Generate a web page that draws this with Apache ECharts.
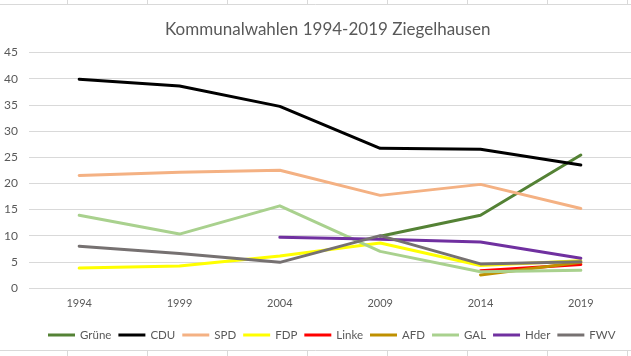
<!DOCTYPE html>
<html><head><meta charset="utf-8">
<script src="https://cdn.jsdelivr.net/npm/echarts@6/dist/echarts.min.js"></script>
<style>html,body{margin:0;padding:0;background:#fff}#c{width:631px;height:356px}</style>
</head><body><div id="c"></div>
<script>
const years = ['1994','1999','2004','2009','2014','2019'];
const yTicks = [0,5,10,15,20,25,30,35,40,45];
const gruene = [null,null,null,9.9,13.9,25.4];
const cdu = [39.9,38.6,34.7,26.7,26.5,23.5];
const spd = [21.5,22.1,22.5,17.7,19.8,15.2];
const fdp = [3.8,4.2,6.1,8.6,4.3,5.2];
const linke = [null,null,null,null,3.3,4.5];
const afd = [null,null,null,null,2.5,4.9];
const gal = [13.9,10.3,15.7,7.0,3.1,3.4];
const hder = [null,null,9.7,9.3,8.8,5.7];
const fwv = [8.0,6.6,4.9,10.0,4.6,5.0];

const seriesDefs = [
  ['Grüne', gruene, '#548235'],
  ['CDU', cdu, '#000000'],
  ['SPD', spd, '#F4B183'],
  ['FDP', fdp, '#FFFF00'],
  ['Linke', linke, '#FF0000'],
  ['AFD', afd, '#BF9000'],
  ['GAL', gal, '#A9D18E'],
  ['Hder', hder, '#7030A0'],
  ['FWV', fwv, '#767171']
];

const chart = echarts.init(document.getElementById('c'), null, {renderer:'canvas'});

const cellLines = [];
const cellColor = '#d9d9d9';
cellLines.push({type:'line', shape:{x1:0,y1:4.5,x2:631,y2:4.5}, style:{stroke:cellColor,lineWidth:1}, silent:true});
cellLines.push({type:'line', shape:{x1:0,y1:350.5,x2:631,y2:350.5}, style:{stroke:cellColor,lineWidth:1}, silent:true});
for (let x = 67.5; x < 631; x += 80) {
  cellLines.push({type:'line', shape:{x1:x,y1:0,x2:x,y2:4}, style:{stroke:cellColor,lineWidth:1}, silent:true});
  cellLines.push({type:'line', shape:{x1:x,y1:351,x2:x,y2:356}, style:{stroke:cellColor,lineWidth:1}, silent:true});
}

chart.setOption({
  backgroundColor:'#fff',
  animation:false,
  textStyle:{fontFamily:'Lato'},
  graphic: cellLines,
  title:{
    text:'Kommunalwahlen 1994-2019 Ziegelhausen',
    left:160, top:16,
    textStyle:{fontFamily:'Lato', fontSize:17, fontWeight:'normal', color:'#595959'}
  },
  legend:{
    data: seriesDefs.map(s=>s[0]),
    left:43, top:324, width:620,
    icon:'rect', itemWidth:27, itemHeight:3, itemGap:7,
    textStyle:{fontFamily:'Lato', fontSize:11.5, color:'#595959'}
  },
  grid:{left:29, top:52.5, width:605, height:235.5, containLabel:false},
  xAxis:{
    type:'category', data:years, boundaryGap:true,
    axisLine:{show:false}, axisTick:{show:false},
    axisLabel:{color:'#595959', fontSize:11, margin:10, fontFamily:'Lato'}
  },
  yAxis:{
    type:'value', min:yTicks[0], max:yTicks[yTicks.length-1], interval:5,
    axisLine:{show:false}, axisTick:{show:false},
    axisLabel:{color:'#595959', fontSize:12, margin:11, fontFamily:'Lato'},
    splitLine:{lineStyle:{color:'#d9d9d9', width:1}}
  },
  series: seriesDefs.map(([name,data,color]) => ({
    name, type:'line', data, color,
    symbol:'none', connectNulls:false,
    lineStyle:{width:3, color, cap:'round', join:'round'},
    itemStyle:{color}
  }))
});
</script></body></html>
